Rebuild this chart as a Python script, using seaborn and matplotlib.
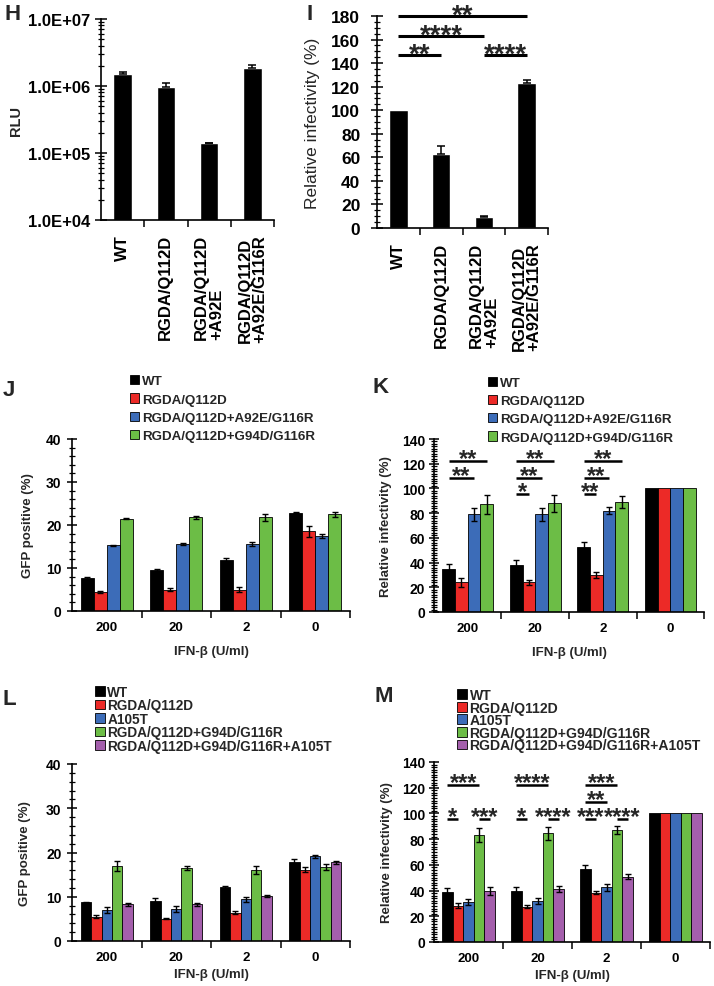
import numpy as np
import pandas as pd
import matplotlib
matplotlib.use("Agg")
import matplotlib.pyplot as plt
import seaborn as sns
from matplotlib.ticker import MultipleLocator, FixedLocator, LogLocator, FuncFormatter, NullFormatter
from matplotlib.patches import Patch

# ---------------- data ----------------
hi_labels = ["WT", "RGDA/Q112D", "RGDA/Q112D\n+A92E", "RGDA/Q112D\n+A92E/G116R"]
h_rlu = [1.5e6, 9.8e5, 1.4e5, 1.87e6]
h_err = [1.2e5, 1.3e5, 2e3, 2.0e5]
i_rel = [100, 62.8, 9.6, 123]
i_err = [0, 6.5, 0.5, 3]
i_sig = [(0, 3, 180, "**"), (0, 2, 163, "****"), (0, 1, 146.5, "**"), (2, 3, 146.5, "****")]

doses = ["200", "20", "2", "0"]
jk_groups = ["WT", "RGDA/Q112D", "RGDA/Q112D+A92E/G116R", "RGDA/Q112D+G94D/G116R"]
lm_groups = ["WT", "RGDA/Q112D", "A105T", "RGDA/Q112D+G94D/G116R", "RGDA/Q112D+G94D/G116R+A105T"]

j_wt = [7.75, 9.6, 11.9, 22.9]
j_rq = [4.5, 5.0, 5.0, 18.5]
j_a92 = [15.3, 15.6, 15.6, 17.4]
j_g94 = [21.5, 21.8, 21.8, 22.5]
j_wt_err = [0.25, 0.2, 0.5, 0.15]
j_rq_err = [0.2, 0.4, 0.5, 1.3]
j_a92_err = [0.1, 0.2, 0.4, 0.4]
j_g94_err = [0.05, 0.4, 0.8, 0.6]

k_wt = [35, 38.4, 53, 100]
k_rq = [24, 24, 30, 100]
k_a92 = [79, 79, 82, 100]
k_g94 = [87, 88, 89, 100]
k_wt_err = [4, 3.5, 3.5, 0]
k_rq_err = [3.5, 2, 2.5, 0]
k_a92_err = [5.5, 5.5, 3, 0]
k_g94_err = [7.5, 7, 5, 0]
k_sig = [(0, 0, 3, 122, "**"), (0, 0, 2, 108.5, "**"),
         (1, 0, 3, 122, "**"), (1, 0, 2, 108.5, "**"), (1, 0, 1, 95.5, "*"),
         (2, 0, 3, 122, "**"), (2, 0, 2, 108.5, "**"), (2, 0, 1, 95.5, "**")]

l_wt = [8.75, 9.0, 12.1, 17.8]
l_rq = [5.5, 5.05, 6.4, 16.1]
l_a105 = [7.0, 7.25, 9.45, 19.1]
l_g94 = [17.0, 16.5, 16.1, 16.8]
l_g94a = [8.3, 8.3, 10.2, 17.8]
l_wt_err = [0.1, 0.8, 0.3, 0.8]
l_rq_err = [0.4, 0.1, 0.4, 0.6]
l_a105_err = [0.6, 0.6, 0.6, 0.3]
l_g94_err = [1.1, 0.5, 0.9, 0.7]
l_g94a_err = [0.4, 0.4, 0.3, 0.3]

m_wt = [38.8, 39.8, 56.7, 100]
m_rq = [28.1, 27.6, 38.5, 100]
m_a105 = [31.2, 31.7, 42.4, 100]
m_g94 = [83.5, 84.6, 87.2, 100]
m_g94a = [39.8, 41.1, 50.7, 100]
m_wt_err = [3.5, 3, 3.5, 0]
m_rq_err = [2, 1.5, 1, 0]
m_a105_err = [2.5, 2.5, 2.5, 0]
m_g94_err = [5.5, 5, 3, 0]
m_g94a_err = [3, 2.5, 2, 0]
m_sig = [(0, 0, 3, 122, "***"), (0, 0, 1, 96, "*"), (0, 3, 4, 96, "***"),
         (1, 0, 3, 122, "****"), (1, 0, 1, 96, "*"), (1, 3, 4, 96, "****"),
         (2, 0, 3, 122, "***"), (2, 0, 2, 109, "**"), (2, 0, 1, 96, "***"), (2, 3, 4, 96, "****")]

col4 = ["#000000", "#ec2a27", "#3c6cb8", "#6cbd46"]
col5 = ["#000000", "#ec2a27", "#3c6cb8", "#6cbd46", "#a45fac"]

# ---------------- style ----------------
sns.set_style("ticks")
plt.rcParams["font.family"] = ["Liberation Sans", "DejaVu Sans"]
plt.rcParams["font.weight"] = "bold"
plt.rcParams["axes.labelweight"] = "bold"
plt.rcParams["axes.linewidth"] = 1.2
plt.rcParams["axes.edgecolor"] = "black"
plt.rcParams["xtick.color"] = "black"
plt.rcParams["ytick.color"] = "black"

W, H = 714, 987
fig = plt.figure(figsize=(W / 100, H / 100), dpi=100)


def add_ax(l, t, r, b):
    return fig.add_axes([l / W, 1 - b / H, (r - l) / W, (b - t) / H])


def style_xcat(ax, labels, fs, pad, rot=0):
    n = len(labels)
    ax.set_xlim(-0.5, n - 0.5)
    ax.set_xticks(range(n))
    if rot:
        ax.set_xticklabels(labels, rotation=90, fontsize=fs, fontweight="bold",
                           ha="center", va="top", multialignment="left", linespacing=1.0)
    else:
        ax.set_xticklabels(labels, fontsize=fs, fontweight="bold")
    ax.xaxis.set_minor_locator(FixedLocator([k + 0.5 for k in range(n)]))
    ax.tick_params(axis="x", which="major", length=0, pad=pad)
    ax.tick_params(axis="x", which="minor", length=5, width=1.1, direction="out")
    ax.set_xlabel("")


def style_y(ax, major, minor, fs, pad, lmaj=7, lmin=4):
    ax.yaxis.set_major_locator(MultipleLocator(major))
    ax.yaxis.set_minor_locator(MultipleLocator(minor))
    ax.tick_params(axis="y", which="major", direction="inout", length=lmaj, width=1.1,
                   labelsize=fs, pad=pad)
    ax.tick_params(axis="y", which="minor", direction="inout", length=lmin, width=0.9)
    for t in ax.get_yticklabels():
        t.set_fontweight("bold")


def sig(ax, centers, items, fs, lw, off):
    for d, a, b, y, lab in items:
        x0 = centers[a][d]
        x1 = centers[b][d]
        ax.plot([x0, x1], [y, y], color="black", lw=lw, solid_capstyle="butt", clip_on=False)
        ax.annotate(lab, xy=((x0 + x1) / 2, y), xytext=(0, off), textcoords="offset points",
                    ha="center", va="baseline", fontsize=fs, fontweight="bold",
                    annotation_clip=False)


def grouped(ax, series, errs, groups, colors, width):
    rows = []
    for g, vals in zip(groups, series):
        for d, v in zip(doses, vals):
            rows.append((d, g, v))
    df = pd.DataFrame(rows, columns=["dose", "group", "value"])
    sns.barplot(data=df, x="dose", y="value", hue="group", order=doses, hue_order=groups,
                palette=colors, width=width, gap=0, edgecolor="black", linewidth=0.6,
                errorbar=None, legend=False, saturation=1, ax=ax)
    centers = []
    for cont, es in zip(ax.containers, errs):
        cs = []
        for bar, e in zip(cont, es):
            x = bar.get_x() + bar.get_width() / 2
            cs.append(x)
            if e > 0:
                ax.errorbar(x, bar.get_height(), yerr=e, fmt="none", ecolor="black",
                            elinewidth=1.0, capsize=2.5, capthick=1.0)
        centers.append(cs)
    sns.despine(ax=ax)
    return centers


def legend(ax, groups, colors, x, y, fs, ls):
    handles = [Patch(facecolor=c, edgecolor="black", linewidth=0.6, label=g)
               for g, c in zip(groups, colors)]
    ax.legend(handles=handles, loc="upper left", bbox_to_anchor=(x / W, 1 - y / H),
              bbox_transform=fig.transFigure, frameon=False, borderpad=0, borderaxespad=0,
              handlelength=0.7, handleheight=0.7, handletextpad=0.2, labelspacing=ls,
              prop={"weight": "bold", "size": fs})


# ---------------- H ----------------
axH = add_ax(101, 20, 274, 221)
dfH = pd.DataFrame({"label": hi_labels, "value": h_rlu})
sns.barplot(data=dfH, x="label", y="value", color="black", width=0.43, saturation=1,
            errorbar=None, ax=axH)
axH.set_yscale("log")
for bar, e in zip(axH.patches, h_err):
    axH.errorbar(bar.get_x() + bar.get_width() / 2, bar.get_height(), yerr=[[0], [e]],
                 fmt="none", ecolor="black", elinewidth=1.1, capsize=3, capthick=1.1)
axH.set_ylim(1e4, 1e7)
axH.yaxis.set_major_locator(LogLocator(base=10, numticks=10))
axH.yaxis.set_minor_locator(LogLocator(base=10, subs=np.arange(2, 10), numticks=20))
axH.yaxis.set_major_formatter(FuncFormatter(lambda v, p: "{:.1E}".format(v)))
axH.yaxis.set_minor_formatter(NullFormatter())
axH.tick_params(axis="y", which="major", direction="inout", length=8, width=1.1,
                labelsize=12, pad=4)
axH.tick_params(axis="y", which="minor", direction="inout", length=5, width=0.9)
for t in axH.get_yticklabels():
    t.set_fontweight("bold")
style_xcat(axH, hi_labels, 12, 10, rot=1)
axH.set_ylabel("RLU", fontsize=10.5, fontweight="bold", labelpad=3)
sns.despine(ax=axH)

# ---------------- I ----------------
axI = add_ax(377, 17, 548, 229)
dfI = pd.DataFrame({"label": hi_labels, "value": i_rel})
sns.barplot(data=dfI, x="label", y="value", color="black", width=0.43, saturation=1,
            errorbar=None, ax=axI)
centersI = []
for bar, e in zip(axI.patches, i_err):
    x = bar.get_x() + bar.get_width() / 2
    centersI.append(x)
    if e > 0:
        axI.errorbar(x, bar.get_height(), yerr=[[0], [e]], fmt="none", ecolor="black",
                     elinewidth=1.1, capsize=3, capthick=1.1)
axI.set_ylim(0, 180)
style_y(axI, 20, 5, 12.5, 8, lmaj=8, lmin=5)
style_xcat(axI, hi_labels, 12, 10, rot=1)
axI.set_ylabel("Relative infectivity (%)", fontsize=12.5, fontweight="normal", labelpad=8)
sns.despine(ax=axI)
sig(axI, [[c] for c in centersI], [(0, a, b, y, s) for a, b, y, s in i_sig], 20, 2.2, -4.5)

# ---------------- J ----------------
axJ = add_ax(72, 440, 350, 612)
grouped(axJ, [j_wt, j_rq, j_a92, j_g94], [j_wt_err, j_rq_err, j_a92_err, j_g94_err],
        jk_groups, col4, 0.75)
axJ.set_ylim(0, 40)
style_y(axJ, 10, 2, 10, 4, lmaj=7, lmin=4)
style_xcat(axJ, doses, 9.5, 7)
axJ.set_xlabel("IFN-β (U/ml)", fontsize=9.5, fontweight="bold", labelpad=9)
axJ.set_ylabel("GFP positive (%)", fontsize=9.5, fontweight="bold", labelpad=9)
legend(axJ, jk_groups, col4, 130, 376, 9.6, 0.45)

# ---------------- K ----------------
axK = add_ax(434, 440, 704, 613)
cK = grouped(axK, [k_wt, k_rq, k_a92, k_g94], [k_wt_err, k_rq_err, k_a92_err, k_g94_err],
             jk_groups, col4, 0.75)
axK.set_ylim(0, 140)
style_y(axK, 20, 2, 10, 3, lmaj=7, lmin=4)
style_xcat(axK, doses, 9.5, 7)
axK.set_xlabel("IFN-β (U/ml)", fontsize=9.5, fontweight="bold", labelpad=9)
axK.set_ylabel("Relative infectivity (%)", fontsize=9.5, fontweight="bold", labelpad=7)
legend(axK, jk_groups, col4, 488, 378, 9.6, 0.43)
sig(axK, cK, k_sig, 17, 1.8, -3)

# ---------------- L ----------------
axL = add_ax(72, 765, 350, 942)
grouped(axL, [l_wt, l_rq, l_a105, l_g94, l_g94a],
        [l_wt_err, l_rq_err, l_a105_err, l_g94_err, l_g94a_err], lm_groups, col5, 0.75)
axL.set_ylim(0, 40)
style_y(axL, 10, 2, 10, 4, lmaj=7, lmin=4)
style_xcat(axL, doses, 9.5, 7)
axL.set_xlabel("IFN-β (U/ml)", fontsize=9.5, fontweight="bold", labelpad=4)
axL.set_ylabel("GFP positive (%)", fontsize=9.5, fontweight="bold", labelpad=11)
legend(axL, lm_groups, col5, 95, 686, 9.8, -0.04)

# ---------------- M ----------------
axM = add_ax(434, 763, 710, 943)
cM = grouped(axM, [m_wt, m_rq, m_a105, m_g94, m_g94a],
             [m_wt_err, m_rq_err, m_a105_err, m_g94_err, m_g94a_err], lm_groups, col5, 0.77)
axM.set_ylim(0, 140)
style_y(axM, 20, 2, 10, 3, lmaj=7, lmin=4)
style_xcat(axM, doses, 9.5, 7)
axM.set_xlabel("IFN-β (U/ml)", fontsize=9.5, fontweight="bold", labelpad=4)
axM.set_ylabel("Relative infectivity (%)", fontsize=9.5, fontweight="bold", labelpad=6)
legend(axM, lm_groups, col5, 457, 689, 10.1, -0.1)
sig(axM, cM, m_sig, 17, 1.8, -3)

# ---------------- panel letters ----------------
for lab, x, y in [("H", 4, 4), ("I", 306, 4), ("J", 3, 380), ("K", 373, 377),
                  ("L", 3, 689), ("M", 374, 686)]:
    fig.text(x / W, 1 - y / H, lab, fontsize=16, fontweight="bold", ha="left", va="top")

fig.savefig("out.png", dpi=100)
